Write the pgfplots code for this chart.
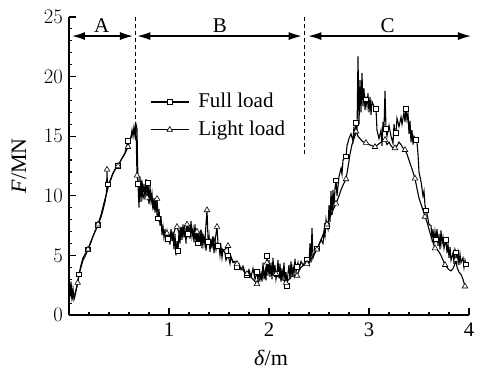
\documentclass[border=0pt]{standalone}
\usepackage{pgfplots}
\pgfplotsset{compat=1.18}
\usetikzlibrary{arrows.meta}
\usepackage[no-math]{fontspec}
\setmainfont{Liberation Serif}
\begin{document}
\fontsize{21bp}{25bp}\selectfont
\begin{tikzpicture}
\useasboundingbox (-69bp,-57bp) rectangle (413bp,315bp);
\begin{axis}[
  scale only axis, width=400bp, height=298bp,
  xmin=0, xmax=4, ymin=0, ymax=25,
  axis x line*=bottom, axis y line*=left,
  axis line style={line width=1.2bp},
  tick align=inside,
  xtick={0,1,2,3,4}, xticklabels={,1,2,3,4},
  ytick={0,5,10,15,20,25},
  minor x tick num=4, minor y tick num=4,
  major tick length=7bp, minor tick length=3.5bp,
  every tick/.style={black, line width=1.1bp},
  tick label style={font=\fontsize{20.74}{24}\selectfont},
  xticklabel style={yshift=-1bp},
  yticklabel style={xshift=1bp},
  xlabel={\textit{δ}/m}, ylabel={\textit{F}/MN},
  label style={font=\fontsize{22bp}{26bp}\selectfont},
  xlabel style={at={(axis description cs:0.505,-0.144)}, anchor=center},
  ylabel style={at={(axis description cs:-0.125,0.5)}, anchor=center},
  clip=false,
  legend style={draw=none, fill=none, at={(axis cs:0.81,18.8)}, anchor=north west,
    row sep=6bp, column sep=7bp, inner sep=0pt, nodes={inner sep=2bp}},
  legend cell align=left,
  legend image code/.code={\draw[mark repeat=2,mark phase=2,#1] plot coordinates {(0bp,0bp) (19bp,0bp) (38bp,0bp)};},
]
% Full load dense
\addplot[black, line width=1.1bp, forget plot] coordinates {
(0.00,2.6)(0.01,1.8)(0.02,2.8)(0.03,1.5)(0.04,2.2)(0.05,1.3)(0.06,1.6)(0.08,2.4)(0.10,3.4)(0.12,4.0)(0.14,4.6)(0.16,4.9)(0.19,5.5)(0.22,6.1)(0.24,6.6)(0.26,7.0)(0.29,7.55)(0.32,8.2)(0.34,8.8)(0.36,9.5)(0.39,10.96)(0.42,11.4)(0.44,11.9)(0.46,12.2)(0.49,12.5)(0.52,13.0)(0.54,13.3)(0.56,13.6)(0.59,14.6)(0.60,14.7)(0.62,14.9)(0.63,15.5)(0.64,15.0)(0.65,15.8)(0.66,15.3)(0.67,16.0)(0.68,15.6)(0.69,11.0)(0.70,9.0)(0.71,11.6)(0.72,9.5)(0.73,11.3)(0.74,10.2)(0.75,11.0)(0.76,9.8)(0.77,11.4)(0.78,10.0)(0.79,11.1)(0.80,9.3)(0.81,10.8)(0.82,9.6)(0.83,10.2)(0.84,9.0)(0.85,9.8)(0.86,8.6)(0.87,9.6)(0.88,8.4)(0.89,8.1)(0.90,8.9)(0.91,7.5)(0.92,8.3)(0.93,6.7)(0.94,7.4)(0.95,6.5)(0.96,7.2)(0.97,6.1)(0.98,7.0)(0.99,6.4)(1.00,6.6)(1.01,5.9)(1.02,7.2)(1.03,6.2)(1.04,7.0)(1.05,5.5)(1.06,6.8)(1.07,5.0)(1.08,6.2)(1.09,5.4)(1.10,7.0)(1.11,6.0)(1.12,7.4)(1.13,6.3)(1.14,7.6)(1.15,6.5)(1.16,7.3)(1.17,6.0)(1.18,7.8)(1.19,6.8)(1.20,7.5)(1.21,6.4)(1.22,7.9)(1.23,6.6)(1.24,7.2)(1.25,6.1)(1.26,7.6)(1.27,6.0)(1.28,7.0)(1.29,6.0)(1.30,6.9)(1.31,5.8)(1.32,7.1)(1.33,5.6)(1.34,6.8)(1.35,5.9)(1.36,6.6)(1.37,5.4)(1.38,6.3)(1.39,6.15)(1.40,6.7)(1.41,5.3)(1.42,6.4)(1.43,5.6)(1.44,6.6)(1.45,5.2)(1.46,6.2)(1.47,5.5)(1.48,6.0)(1.49,5.8)(1.50,5.9)(1.51,5.0)(1.52,5.7)(1.53,4.8)(1.54,5.5)(1.56,5.2)(1.57,4.6)(1.59,5.0)(1.60,4.7)(1.61,4.3)(1.62,4.9)(1.64,4.4)(1.66,4.5)(1.67,4.0)(1.68,4.05)(1.70,4.3)(1.72,3.8)(1.74,4.1)(1.76,3.6)(1.78,3.35)(1.80,3.8)(1.82,3.2)(1.84,3.9)(1.86,3.0)(1.88,3.6)(1.89,2.9)(1.90,3.8)(1.91,3.0)(1.92,3.5)(1.93,2.8)(1.94,4.4)(1.95,3.0)(1.96,3.6)(1.97,2.9)(1.98,4.95)(1.99,3.3)(2.00,4.6)(2.01,3.2)(2.02,4.4)(2.03,3.0)(2.04,4.8)(2.05,3.3)(2.06,4.2)(2.07,3.0)(2.08,3.45)(2.09,4.6)(2.10,3.1)(2.11,4.3)(2.12,2.8)(2.13,3.9)(2.14,3.0)(2.15,4.4)(2.16,2.8)(2.17,3.6)(2.18,2.45)(2.19,3.5)(2.20,4.2)(2.21,3.0)(2.22,4.5)(2.23,3.2)(2.24,4.0)(2.25,3.4)(2.26,4.7)(2.27,3.6)(2.28,4.05)(2.29,4.4)(2.30,3.8)(2.32,4.5)(2.34,4.2)(2.36,4.4)(2.38,4.67)(2.40,4.2)(2.41,6.0)(2.42,4.4)(2.43,7.3)(2.44,4.8)(2.46,5.3)(2.48,5.6)(2.50,5.9)(2.52,6.3)(2.54,6.0)(2.55,7.0)(2.56,6.6)(2.57,8.0)(2.58,7.5)(2.59,7.2)(2.60,9.2)(2.61,7.8)(2.62,10.4)(2.63,8.4)(2.64,10.5)(2.65,9.0)(2.66,10.6)(2.67,11.3)(2.68,10.0)(2.70,11.6)(2.72,12.3)(2.73,11.8)(2.74,13.0)(2.76,13.2)(2.77,13.3)(2.78,14.2)(2.80,14.8)(2.82,15.2)(2.84,14.6)(2.85,15.8)(2.86,15.0)(2.87,16.1)(2.88,15.2)(2.89,21.7)(2.90,16.0)(2.91,19.7)(2.92,17.0)(2.93,20.3)(2.94,17.5)(2.95,19.0)(2.96,17.2)(2.97,18.1)(2.98,17.5)(2.99,18.6)(3.00,17.0)(3.01,18.3)(3.02,16.8)(3.03,17.9)(3.05,17.5)(3.07,17.3)(3.08,15.5)(3.10,14.8)(3.12,15.5)(3.13,14.2)(3.14,16.2)(3.15,15.6)(3.16,18.8)(3.17,15.6)(3.18,15.0)(3.20,15.9)(3.22,15.0)(3.24,14.4)(3.25,16.0)(3.26,15.3)(3.27,15.3)(3.28,16.5)(3.30,15.8)(3.32,16.6)(3.33,16.0)(3.35,17.0)(3.36,16.2)(3.37,17.3)(3.38,16.4)(3.39,17.0)(3.40,15.2)(3.41,16.3)(3.42,14.5)(3.43,15.5)(3.44,14.3)(3.45,15.0)(3.47,14.7)(3.48,14.5)(3.49,13.5)(3.50,12.0)(3.52,11.2)(3.54,10.0)(3.55,10.4)(3.56,9.2)(3.57,8.8)(3.58,8.5)(3.60,7.6)(3.62,7.5)(3.63,6.5)(3.64,7.2)(3.65,6.0)(3.66,7.0)(3.67,6.35)(3.68,7.2)(3.69,5.8)(3.70,6.8)(3.71,5.5)(3.72,7.1)(3.73,6.0)(3.74,6.5)(3.75,5.6)(3.77,6.3)(3.78,5.2)(3.79,6.0)(3.80,4.8)(3.81,5.7)(3.82,4.6)(3.84,5.2)(3.85,4.3)(3.86,5.5)(3.87,5.25)(3.88,4.5)(3.89,5.2)(3.90,4.2)(3.91,5.1)(3.92,4.4)(3.94,4.8)(3.95,4.0)(3.96,4.6)(3.97,4.25)(3.98,4.4)
};
% Full load marks
\addplot[black, only marks, mark=square*, mark size=2.3bp, mark options={fill=white, line width=0.6bp}, forget plot] coordinates {
(0.10,3.4)(0.19,5.5)(0.29,7.55)(0.39,10.96)(0.49,12.5)(0.59,14.6)(0.69,11.0)(0.79,11.1)(0.89,8.1)(0.99,6.4)(1.09,5.4)(1.19,6.8)(1.29,6.0)(1.39,6.15)(1.49,5.8)(1.59,5.0)(1.68,4.05)(1.78,3.35)(1.88,3.6)(1.98,4.95)(2.08,3.45)(2.18,2.45)(2.28,4.05)(2.38,4.67)(2.48,5.6)(2.58,7.5)(2.67,11.3)(2.77,13.3)(2.87,16.1)(2.97,18.1)(3.07,17.3)(3.17,15.6)(3.27,15.3)(3.37,17.3)(3.47,14.7)(3.57,8.8)(3.67,6.35)(3.77,6.3)(3.87,5.25)(3.97,4.25)
};
% Light load dense
\addplot[black, line width=1.1bp, forget plot] coordinates {
(0.00,2.5)(0.01,1.6)(0.02,2.0)(0.03,1.3)(0.04,1.6)(0.06,1.8)(0.087,2.7)(0.10,3.4)(0.12,4.2)(0.14,4.8)(0.16,5.1)(0.19,5.5)(0.22,6.2)(0.26,7.0)(0.29,7.6)(0.32,8.4)(0.35,9.4)(0.375,10.2)(0.38,12.2)(0.385,10.5)(0.40,11.0)(0.43,11.7)(0.46,12.2)(0.49,12.5)(0.52,13.0)(0.55,13.4)(0.58,13.9)(0.59,14.1)(0.61,14.6)(0.63,15.2)(0.65,15.6)(0.66,15.0)(0.67,15.8)(0.68,11.7)(0.70,10.8)(0.72,11.2)(0.74,9.8)(0.76,10.4)(0.78,9.85)(0.80,9.5)(0.82,9.9)(0.84,8.9)(0.86,9.4)(0.88,9.75)(0.89,8.5)(0.90,7.9)(0.92,7.6)(0.94,7.2)(0.96,6.8)(0.98,6.85)(1.00,6.5)(1.02,7.0)(1.04,6.6)(1.06,7.2)(1.08,7.4)(1.10,6.9)(1.12,7.3)(1.14,7.0)(1.16,7.5)(1.18,7.6)(1.20,7.2)(1.22,7.4)(1.24,6.9)(1.26,7.3)(1.28,7.0)(1.30,6.8)(1.32,7.1)(1.34,6.6)(1.36,6.4)(1.38,8.8)(1.39,6.5)(1.40,6.2)(1.42,6.0)(1.44,6.5)(1.46,6.2)(1.48,7.4)(1.49,6.0)(1.50,5.8)(1.52,5.6)(1.54,5.4)(1.56,5.5)(1.59,5.8)(1.60,5.0)(1.62,4.8)(1.64,4.5)(1.66,4.4)(1.68,4.3)(1.70,4.1)(1.72,3.9)(1.74,3.8)(1.76,3.5)(1.78,3.45)(1.80,3.3)(1.82,3.2)(1.84,3.0)(1.86,2.8)(1.88,2.6)(1.90,2.9)(1.92,3.1)(1.94,3.4)(1.96,3.6)(1.98,4.4)(2.00,3.6)(2.02,3.5)(2.04,3.4)(2.07,3.45)(2.10,3.2)(2.12,3.0)(2.15,2.9)(2.17,2.7)(2.20,3.0)(2.22,3.2)(2.25,3.3)(2.28,3.3)(2.30,3.7)(2.32,4.0)(2.35,4.2)(2.38,4.3)(2.40,4.4)(2.43,4.8)(2.46,5.2)(2.48,5.5)(2.50,5.9)(2.53,6.5)(2.56,7.2)(2.58,7.6)(2.60,8.0)(2.62,8.4)(2.64,8.8)(2.67,9.35)(2.70,10.0)(2.72,10.5)(2.74,10.9)(2.77,11.4)(2.79,12.4)(2.81,13.5)(2.83,14.3)(2.85,14.8)(2.87,15.4)(2.89,15.0)(2.91,14.8)(2.93,14.6)(2.95,14.5)(2.97,14.45)(3.00,14.3)(3.03,14.2)(3.06,14.1)(3.09,14.3)(3.12,14.5)(3.14,14.6)(3.16,14.7)(3.18,14.3)(3.20,14.5)(3.22,14.2)(3.24,14.0)(3.26,14.0)(3.28,14.2)(3.30,14.5)(3.32,14.3)(3.34,14.0)(3.36,13.85)(3.38,13.5)(3.40,13.0)(3.42,12.5)(3.44,12.0)(3.46,11.45)(3.48,10.6)(3.50,9.8)(3.52,9.3)(3.54,8.8)(3.56,8.25)(3.58,7.8)(3.60,7.2)(3.62,6.6)(3.64,6.1)(3.66,5.6)(3.68,5.5)(3.70,5.3)(3.72,5.0)(3.74,4.6)(3.76,4.2)(3.78,4.0)(3.80,3.8)(3.82,3.7)(3.84,3.9)(3.86,4.3)(3.87,4.65)(3.88,4.0)(3.90,3.6)(3.92,3.4)(3.94,3.0)(3.96,2.4)
};
% Light load marks
\addplot[black, only marks, mark=triangle*, mark size=3.2bp, mark options={fill=white, line width=0.6bp}, forget plot] coordinates {
(0.087,2.7)(0.19,5.5)(0.29,7.6)(0.38,12.2)(0.49,12.5)(0.59,14.1)(0.68,11.7)(0.78,9.85)(0.88,9.75)(0.98,6.85)(1.08,7.4)(1.18,7.6)(1.28,7.0)(1.38,8.8)(1.48,7.4)(1.59,5.8)(1.68,4.3)(1.78,3.45)(1.88,2.6)(1.98,4.4)(2.07,3.45)(2.17,2.7)(2.28,3.3)(2.38,4.3)(2.48,5.5)(2.58,7.6)(2.67,9.35)(2.77,11.4)(2.87,15.4)(2.97,14.45)(3.06,14.1)(3.16,14.7)(3.26,14.0)(3.36,13.85)(3.46,11.45)(3.56,8.25)(3.66,5.6)(3.76,4.2)(3.87,4.65)(3.96,2.4)
};
\addlegendimage{black, line width=1.1bp, mark=square*, mark size=2.3bp, mark options={fill=white, line width=0.6bp}}
\addlegendentry{Full load}
\addlegendimage{black, line width=1.1bp, mark=triangle*, mark size=3.2bp, mark options={fill=white, line width=0.6bp}}
\addlegendentry{Light load}
% dashed separators
\draw[dash pattern=on 4bp off 3bp, line width=0.9bp] (axis cs:0.66,25) -- (axis cs:0.66,15.8);
\draw[dash pattern=on 4bp off 3bp, line width=0.9bp] (axis cs:2.353,25) -- (axis cs:2.353,13.5);
% region arrows
\draw[{Latex[length=13bp,width=8bp]}-{Latex[length=13bp,width=8bp]}, line width=1.3bp] (axis cs:0.03,23.4) -- (axis cs:0.64,23.4);
\draw[{Latex[length=13bp,width=8bp]}-{Latex[length=13bp,width=8bp]}, line width=1.3bp] (axis cs:0.683,23.4) -- (axis cs:2.327,23.4);
\draw[{Latex[length=13bp,width=8bp]}-{Latex[length=13bp,width=8bp]}, line width=1.3bp] (axis cs:2.393,23.4) -- (axis cs:4.02,23.4);
\node at (axis cs:0.327,24.3) {A};
\node at (axis cs:1.51,24.3) {B};
\node at (axis cs:3.187,24.3) {C};
\end{axis}
\end{tikzpicture}
\end{document}
